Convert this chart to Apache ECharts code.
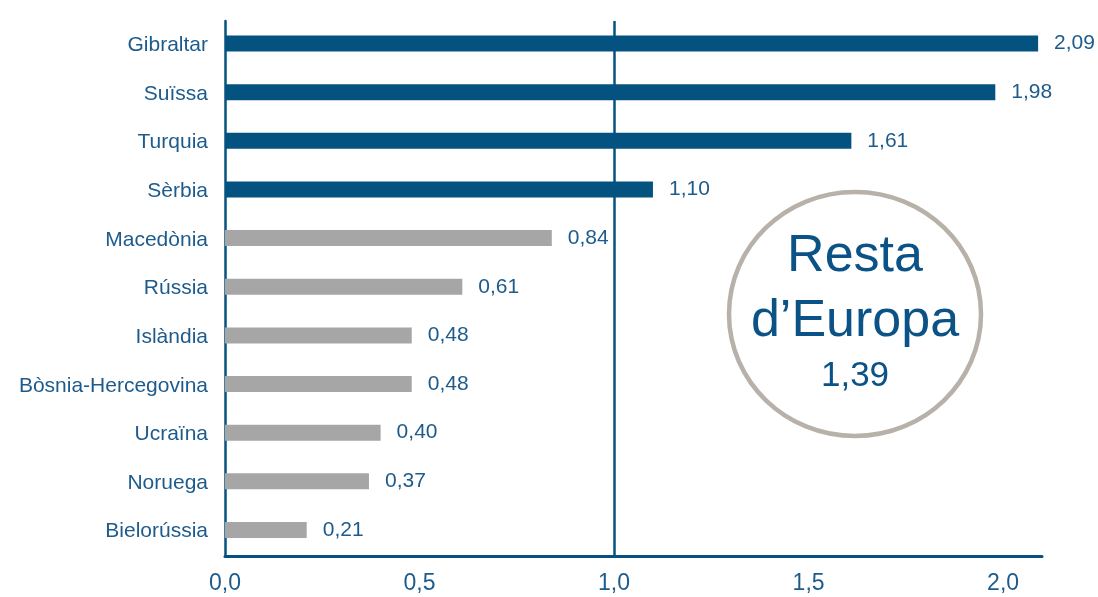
<!DOCTYPE html>
<html>
<head>
<meta charset="utf-8">
<script src="https://cdn.jsdelivr.net/npm/echarts@6/dist/echarts.min.js"></script>
<style>html,body{margin:0;padding:0;background:#fff}#c{width:1098px;height:597px}</style>
</head>
<body>
<div id="c"></div>
<script>
const categories = ['Gibraltar','Suïssa','Turquia','Sèrbia','Macedònia','Rússia','Islàndia','Bòsnia-Hercegovina','Ucraïna','Noruega','Bielorússia'];
const values = [2.09, 1.98, 1.61, 1.10, 0.84, 0.61, 0.48, 0.48, 0.40, 0.37, 0.21];
const highlightCount = 4;
const referenceValue = 1.0;
const circleTitle = ['Resta', 'd\u2019Europa'];
const circleValue = '1,39';

const DARK = '#04527f';
const GRAY = '#a6a6a6';
const TEXT = '#1d5b8c';
const FONT = '"Liberation Sans", Arial, sans-serif';

const chart = echarts.init(document.getElementById('c'), null, {renderer: 'canvas'});
const fmt = v => v.toFixed(2).replace('.', ',');

chart.setOption({
  animation: false,
  grid: {left: 225, right: 56, top: 21, bottom: 41, containLabel: false},
  xAxis: {
    type: 'value', min: 0, max: 2.1, interval: 0.5,
    splitLine: {show: false},
    axisLine: {show: true, lineStyle: {color: DARK, width: 3}},
    axisTick: {show: false},
    axisLabel: {
      color: TEXT, fontFamily: FONT, fontSize: 23, margin: 16,
      formatter: v => v.toFixed(1).replace('.', ','),
      showMaxLabel: false
    }
  },
  yAxis: {
    type: 'category', data: categories, inverse: true,
    axisLine: {show: true, lineStyle: {color: DARK, width: 2.5}},
    axisTick: {show: false},
    axisLabel: {color: TEXT, fontFamily: FONT, fontSize: 21, margin: 17}
  },
  series: [{
    type: 'bar', z: 3,
    barWidth: 16,
    data: values.map((v, i) => ({value: v, itemStyle: {color: i < highlightCount ? DARK : GRAY}})),
    label: {show: true, position: 'right', distance: 16, color: TEXT, fontFamily: FONT, fontSize: 21, formatter: p => fmt(p.value)}
  }, {
    type: 'bar', z: 1, data: [],
    markLine: {
      silent: true, symbol: 'none', label: {show: false},
      lineStyle: {color: DARK, width: 2.5, type: 'solid'},
      data: [{xAxis: referenceValue}]
    }
  }],
  graphic: [
    {type: 'ellipse', shape: {cx: 855, cy: 314, rx: 126, ry: 122}, style: {fill: '#fff', stroke: '#b8b1aa', lineWidth: 4.5}, z: 10},
    {type: 'text', x: 855, y: 257, style: {text: circleTitle[0], fill: '#0b5286', font: '52px ' + FONT, textAlign: 'center', textVerticalAlign: 'middle'}, z: 11},
    {type: 'text', x: 855, y: 322, style: {text: circleTitle[1], fill: '#0b5286', font: '52px ' + FONT, textAlign: 'center', textVerticalAlign: 'middle'}, z: 11},
    {type: 'text', x: 855, y: 376, style: {text: circleValue, fill: '#0b5286', font: '35px ' + FONT, textAlign: 'center', textVerticalAlign: 'middle'}, z: 11}
  ]
});
</script>
</body>
</html>
